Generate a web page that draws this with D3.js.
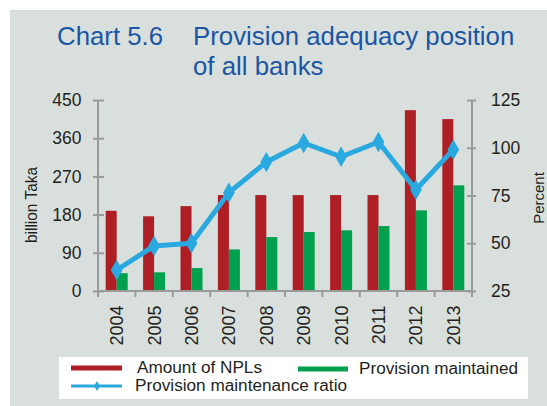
<!DOCTYPE html>
<html><head><meta charset="utf-8">
<script src="https://cdn.jsdelivr.net/npm/d3@7"></script>
<style>body{margin:0;background:#fff;font-family:"Liberation Sans",Arial,sans-serif;}</style>
</head><body><svg id="c" width="547" height="406"></svg>
<script>
const years = ["2004","2005","2006","2007","2008","2009","2010","2011","2012","2013"];
const npl = [189,176,200,226,226,226,226,226,426,405];
const provision = [42,44,54,98,127,139,143,153,190,249];
const ratio = [36,48.6,50,76.5,92.5,102.5,95.3,103,78,99];
const leftTicks = [0,90,180,270,360,450];
const rightTicks = [25,50,75,100,125];

const svg = d3.select("#c");
const font = "Liberation Sans, Arial, sans-serif";
svg.append("rect").attr("x",10).attr("y",10).attr("width",537).attr("height",396).attr("fill","#d9dfdc");

// title
const tcol = "#1b56a3";
svg.append("text").attr("x",57).attr("y",45).attr("fill",tcol).attr("font-size",25.8).attr("font-family",font).text("Chart 5.6");
svg.append("text").attr("x",193).attr("y",45).attr("fill",tcol).attr("font-size",25.8).attr("font-family",font).text("Provision adequacy position");
svg.append("text").attr("x",193).attr("y",75).attr("fill",tcol).attr("font-size",25.8).attr("font-family",font).text("of all banks");

const x0=98, x1=472, yb=291, yt=100;
const x = d3.scaleBand().domain(years).range([x0,x1]).paddingInner(0).paddingOuter(0);
const yL = d3.scaleLinear().domain([0,450]).range([yb,yt]);
const yR = d3.scaleLinear().domain([25,125]).range([yb,yt]);
const bw = 11;
const axisCol = "#9a9a9a";

// bars
svg.append("g").selectAll("rect").data(years).join("rect")
  .attr("x",d=>x(d)+x.bandwidth()/2-bw).attr("width",bw)
  .attr("y",(d,i)=>yL(npl[i])).attr("height",(d,i)=>yb-yL(npl[i])).attr("fill","#ae1f25");
svg.append("g").selectAll("rect").data(years).join("rect")
  .attr("x",d=>x(d)+x.bandwidth()/2).attr("width",bw)
  .attr("y",(d,i)=>yL(provision[i])).attr("height",(d,i)=>yb-yL(provision[i])).attr("fill","#00a14e");

// axes
const gl = svg.append("g").attr("transform",`translate(${x0},0)`)
  .call(d3.axisLeft(yL).tickValues(leftTicks).tickSize(5).tickPadding(11.5));
gl.selectAll(".tick line").attr("x2",-5).attr("x1",6);
const gr = svg.append("g").attr("transform",`translate(${x1},0)`)
  .call(d3.axisRight(yR).tickValues(rightTicks).tickSize(4).tickPadding(15));
gr.selectAll(".tick line").attr("x1",-5).attr("x2",4);
const gx = svg.append("g").attr("transform",`translate(0,${yb})`)
  .call(d3.axisBottom(x).tickSize(0).tickPadding(0));
gx.selectAll(".tick line").remove();
gx.selectAll(".tick text").attr("transform","rotate(-90)").attr("text-anchor","end")
  .attr("x",-14.5).attr("y",0).attr("dy","0.36em").attr("dx",0);
// x-axis tick marks at band edges
svg.append("g").selectAll("line").data(d3.range(years.length+1)).join("line")
  .attr("x1",i=>x0+i*x.step()).attr("x2",i=>x0+i*x.step()).attr("y1",yb).attr("y2",yb+6)
  .attr("stroke",axisCol).attr("stroke-width",2);
[gl,gr,gx].forEach(g=>{
  g.select(".domain").attr("stroke",axisCol).attr("stroke-width",2);
  g.selectAll(".tick line").attr("stroke",axisCol).attr("stroke-width",2);
  g.selectAll(".tick text").attr("font-size",17.5).attr("font-family",font).attr("fill","#231f20");
});
gx.select(".domain").attr("d",`M${x0},0H${x1}`);
gx.selectAll(".tick text").attr("font-size",18);
gl.select(".domain").attr("d",`M0,${yb}V${yt}`);
gr.select(".domain").attr("d",`M0,${yb}V${yt}`);

// line
const line = d3.line().x((d,i)=>x(years[i])+x.bandwidth()/2).y(d=>yR(d));
svg.append("path").datum(ratio).attr("d",line).attr("fill","none").attr("stroke","#2aa9e0").attr("stroke-width",5).attr("stroke-linejoin","round");
const diamond = d3.symbol().type(d3.symbolDiamond).size(120);
svg.append("g").selectAll("path").data(ratio).join("path")
  .attr("transform",(d,i)=>`translate(${x(years[i])+x.bandwidth()/2},${yR(d)})`)
  .attr("d",diamond).attr("fill","#2aa9e0");

// axis titles
svg.append("text").attr("transform","translate(36.5,205) rotate(-90)").attr("text-anchor","middle")
  .attr("font-size",16.5).attr("textLength",76).attr("lengthAdjust","spacingAndGlyphs")
  .attr("font-family",font).attr("fill","#231f20").text("billion Taka");
svg.append("text").attr("transform","translate(544,198) rotate(-90)").attr("text-anchor","middle")
  .attr("font-size",15).attr("font-family",font).attr("fill","#231f20").text("Percent");

// legend
svg.append("rect").attr("x",59).attr("y",357).attr("width",469).attr("height",42).attr("fill","#fff");
const lg = svg.append("g");
lg.append("line").attr("x1",71).attr("x2",122).attr("y1",368).attr("y2",368).attr("stroke","#ae1f25").attr("stroke-width",5);
lg.append("text").attr("x",137).attr("y",373.3).attr("font-size",16).attr("textLength",125).attr("lengthAdjust","spacingAndGlyphs")
  .attr("font-family",font).attr("fill","#231f20").text("Amount of NPLs");
lg.append("line").attr("x1",298).attr("x2",348).attr("y1",369).attr("y2",369).attr("stroke","#00a14e").attr("stroke-width",5);
lg.append("text").attr("x",359).attr("y",374.3).attr("font-size",16).attr("textLength",159).attr("lengthAdjust","spacingAndGlyphs")
  .attr("font-family",font).attr("fill","#231f20").text("Provision maintained");
lg.append("line").attr("x1",71).attr("x2",122).attr("y1",386).attr("y2",386).attr("stroke","#2aa9e0").attr("stroke-width",3);
lg.append("path").attr("transform","translate(97,386)").attr("d",d3.symbol().type(d3.symbolDiamond).size(30)).attr("fill","#2aa9e0");
lg.append("text").attr("x",135).attr("y",390.7).attr("font-size",16).attr("textLength",212).attr("lengthAdjust","spacingAndGlyphs")
  .attr("font-family",font).attr("fill","#231f20").text("Provision maintenance ratio");
</script></body></html>
